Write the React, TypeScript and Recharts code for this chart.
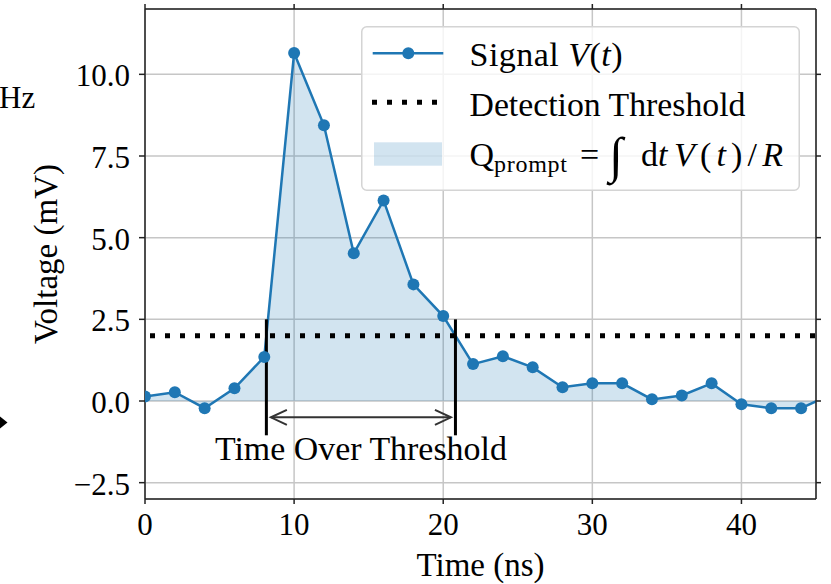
import React from 'react';
import { ComposedChart, Area, XAxis, YAxis, CartesianGrid, ReferenceLine, Legend } from 'recharts';

// ---- data ----
const TIME_NS = [0, 2, 4, 6, 8, 10, 12, 14, 16, 18, 20, 22, 24, 26, 28, 30, 32, 34, 36, 38, 40, 42, 44, 46];
const VOLTAGE_MV = [0.14, 0.27, -0.22, 0.39, 1.35, 10.65, 8.44, 4.52, 6.14, 3.57, 2.6, 1.13, 1.37, 1.03, 0.42, 0.54, 0.54, 0.05, 0.17, 0.54, -0.1, -0.22, -0.22, 0.2];
const X_TICKS = [0, 10, 20, 30, 40];
const Y_TICKS = [-2.5, 0, 2.5, 5, 7.5, 10];
const X_DOMAIN = [0, 45];
const Y_DOMAIN = [-3, 12];
const THRESHOLD = 2.0;
const TOT_START = 8.14;
const TOT_END = 20.82;
const TOT_LINE_BOTTOM = -1.05;
const TOT_LINE_TOP = 2.5;
const TOT_ARROW_Y = -0.5;

const data = TIME_NS.map((t, i) => ({ t, v: VOLTAGE_MV[i] }));

const FONT = "'Liberation Serif', 'DejaVu Serif', serif";
const BLUE = '#1f77b4';

const fmtY = (v: number) => (v < 0 ? '\u2212' + Math.abs(v).toFixed(1) : v.toFixed(1));

const YTick = (props: any) => {
  const { x, y, payload } = props;
  return (
    <text x={x} y={y} dy={12} textAnchor="end" fontFamily={FONT} fontSize={31} fill="#000">
      {fmtY(payload.value)}
    </text>
  );
};

const XTick = (props: any) => {
  const { x, y, payload } = props;
  return (
    <text x={x} y={y} dy={23} textAnchor="middle" fontFamily={FONT} fontSize={31} fill="#000">
      {String(payload.value)}
    </text>
  );
};

const NoTick = () => <g />;

const ArrowShape = (props: any) => {
  const { x1, y1, x2 } = props;
  const a = x1 + 4.5;
  const b = x2 - 4.5;
  const y = y1;
  const mid = (x1 + x2) / 2;
  return (
    <g>
      <line x1={a} y1={y} x2={b} y2={y} stroke="#333" strokeWidth={2} />
      <polyline points={`${a + 16},${y - 7.5} ${a},${y} ${a + 16},${y + 7.5}`} fill="none" stroke="#333" strokeWidth={2} />
      <polyline points={`${b - 16},${y - 7.5} ${b},${y} ${b - 16},${y + 7.5}`} fill="none" stroke="#333" strokeWidth={2} />
      <text x={mid} y={y + 43} textAnchor="middle" fontFamily={FONT} fontSize={33} fill="#000" textLength={292} lengthAdjust="spacingAndGlyphs">
        Time Over Threshold
      </text>
    </g>
  );
};

const LegendBox = () => (
  <svg width={440} height={166} style={{ display: 'block', overflow: 'visible' }}>
    <rect x={0.75} y={0.75} width={437.5} height={163.5} rx={5} fill="#fff" fillOpacity={0.8} stroke="#d4d4d4" strokeWidth={1.5} />
    {/* Signal */}
    <line x1={11.7} y1={27.3} x2={82.3} y2={27.3} stroke={BLUE} strokeWidth={2.5} />
    <circle cx={47.3} cy={27.3} r={6} fill={BLUE} />
    <text x={108.5} y={39.7} fontFamily={FONT} fontSize={34} fill="#000" textLength={153} lengthAdjust="spacing">
      Signal <tspan fontStyle="italic">V</tspan>(<tspan fontStyle="italic">t</tspan>)
    </text>
    {/* Threshold */}
    <line x1={11} y1={76.3} x2={81} y2={76.3} stroke="#000" strokeWidth={5} strokeDasharray="5 10" />
    <text x={108.5} y={90} fontFamily={FONT} fontSize={34} fill="#000" textLength={276} lengthAdjust="spacingAndGlyphs">
      Detection Threshold
    </text>
    {/* Charge */}
    <rect x={13} y={116.3} width={68} height={23.4} fill={BLUE} fillOpacity={0.2} />
    <text x={108.5} y={140.3} fontFamily={FONT} fontSize={34} fill="#000">Q</text>
    <text x={133} y={145.5} fontFamily={FONT} fontSize={24} fill="#000" textLength={73} lengthAdjust="spacing">prompt</text>
    <text x={219} y={140.3} fontFamily={FONT} fontSize={34} fill="#000">=</text>
    <text x={248} y={146} fontFamily={FONT} fontSize={50} fill="#000">{'\u222B'}</text>
    <text x={280} y={140.3} fontFamily={FONT} fontSize={34} fill="#000">
      d<tspan fontStyle="italic">t</tspan>
    </text>
    <text x={313} y={140.3} fontFamily={FONT} fontSize={34} fill="#000" textLength={109} lengthAdjust="spacing">
      <tspan fontStyle="italic">V</tspan>(<tspan fontStyle="italic">t</tspan>)/<tspan fontStyle="italic">R</tspan>
    </text>
  </svg>
);

export default function App() {
  return (
    <div style={{ position: 'absolute', left: 0, top: 0, width: 831, height: 584, background: '#fff' }}>
      <ComposedChart width={831} height={584} data={data} margin={{ top: 0, right: 0, bottom: 0, left: 0 }}>
        <CartesianGrid xAxisId="b" yAxisId="l" stroke="#c6c6c6" strokeWidth={1.5} />
        <XAxis
          xAxisId="b"
          dataKey="t"
          type="number"
          domain={X_DOMAIN}
          ticks={X_TICKS}
          allowDataOverflow
          height={85}
          tickSize={5}
          tickMargin={8}
          tick={<XTick />}
          stroke="#222"
          strokeWidth={1.5}
          label={{
            content: (p: any) => {
              const vb = p.viewBox;
              return (
                <text x={vb.x + vb.width / 2} y={vb.y + 77} textAnchor="middle" fontFamily={FONT} fontSize={33} fill="#000">
                  Time (ns)
                </text>
              );
            },
          }}
        />
        <XAxis
          xAxisId="t"
          orientation="top"
          dataKey="t"
          type="number"
          domain={X_DOMAIN}
          ticks={X_TICKS}
          allowDataOverflow
          height={9}
          tickSize={5}
          tick={<NoTick />}
          stroke="#222"
          strokeWidth={1.5}
        />
        <YAxis
          yAxisId="l"
          type="number"
          domain={Y_DOMAIN}
          ticks={Y_TICKS}
          allowDataOverflow
          width={145}
          tickSize={6}
          tickMargin={9}
          tick={<YTick />}
          stroke="#222"
          strokeWidth={1.5}
          label={{
            content: (p: any) => {
              const vb = p.viewBox;
              const cx = vb.x + 57;
              const cy = vb.y + vb.height / 2;
              return (
                <text x={cx} y={cy} transform={`rotate(-90 ${cx} ${cy})`} textAnchor="middle" fontFamily={FONT} fontSize={33} fill="#000">
                  Voltage (mV)
                </text>
              );
            },
          }}
        />
        <YAxis
          yAxisId="r"
          orientation="right"
          type="number"
          domain={Y_DOMAIN}
          ticks={Y_TICKS}
          allowDataOverflow
          width={15}
          tickSize={5}
          tick={<NoTick />}
          stroke="#222"
          strokeWidth={1.5}
        />
        <Area
          xAxisId="b"
          yAxisId="l"
          type="linear"
          dataKey="v"
          baseValue={0}
          stroke={BLUE}
          strokeWidth={2.5}
          fill={BLUE}
          fillOpacity={0.2}
          dot={{ r: 6, fill: BLUE, stroke: 'none', fillOpacity: 1 }}
          activeDot={false}
          isAnimationActive={false}
        />
        <ReferenceLine
          xAxisId="b"
          yAxisId="l"
          y={THRESHOLD}
          stroke="#000"
          strokeWidth={5}
          strokeDasharray="5 10"
          strokeDashoffset={10}
        />
        <ReferenceLine
          xAxisId="b"
          yAxisId="l"
          segment={[{ x: TOT_START, y: TOT_LINE_BOTTOM }, { x: TOT_START, y: TOT_LINE_TOP }]}
          stroke="#000"
          strokeWidth={3}
        />
        <ReferenceLine
          xAxisId="b"
          yAxisId="l"
          segment={[{ x: TOT_END, y: TOT_LINE_BOTTOM }, { x: TOT_END, y: TOT_LINE_TOP }]}
          stroke="#000"
          strokeWidth={3}
        />
        <ReferenceLine
          xAxisId="b"
          yAxisId="l"
          segment={[{ x: TOT_START, y: TOT_ARROW_Y }, { x: TOT_END, y: TOT_ARROW_Y }]}
          shape={(p: any) => <ArrowShape {...p} />}
        />
        <Legend
          layout="vertical"
          align="center"
          verticalAlign="middle"
          content={() => <LegendBox />}
          wrapperStyle={{ position: 'absolute', left: 361, top: 26, width: 440, height: 166 }}
        />
      </ComposedChart>
      <svg width={831} height={584} style={{ position: 'absolute', left: 0, top: 0, pointerEvents: 'none' }}>
        <text x={-1} y={108} fontFamily={FONT} fontSize={31} fill="#000">Hz</text>
        <polygon points="-4,422.5 0,416.5 7.5,422.5 0,428.5" fill="#000" />
      </svg>
    </div>
  );
}
